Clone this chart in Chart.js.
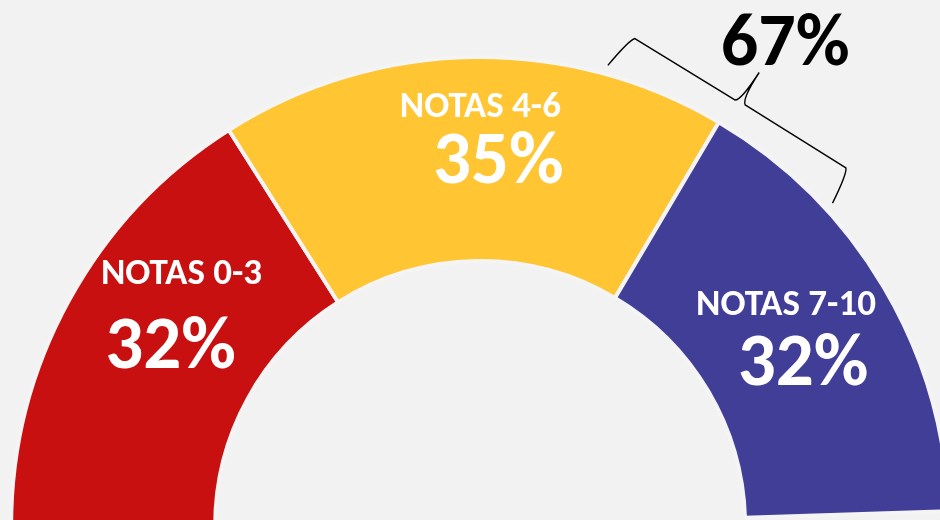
<!DOCTYPE html>
<html>
<head>
<meta charset="utf-8">
<script src="https://cdn.jsdelivr.net/npm/chart.js@4.4.1/dist/chart.umd.min.js"></script>
<style>
  html, body { margin: 0; padding: 0; background: #f2f2f2; overflow: hidden; width: 940px; height: 520px; }
  #wrap { position: absolute; left: 0; top: 0; width: 940px; height: 583px; }
</style>
</head>
<body>
<div id="wrap"><canvas id="chart"></canvas></div>
<script>
// Datos del gráfico
const categorias = ["NOTAS 0-3", "NOTAS 4-6", "NOTAS 7-10"];
const porcentajes = [32, 35, 32];
const colores = ["#c81010", "#ffc532", "#413e98"];
// el semicírculo completo equivale al 100%
const total = 100;

// ajuste fino de cada etiqueta respecto al centro del sector: [dxNombre, dyNombre, dxValor, dyValor]
const ajusteEtiquetas = [
  [23, -65, 12, 19],
  [6, -42, 24, 24],
  [-10, -24, 7, 46],
];

const FUENTE = "Carlito, Lato, sans-serif";

/**
 * Dibuja los textos de cada sector, la llave y el total de las notas 4-10
 */
const etiquetasPlugin = {
  id: "etiquetas",
  afterDatasetsDraw(chart) {
    const ctx = chart.ctx;
    const arcos = chart.getDatasetMeta(0).data;
    ctx.save();
    ctx.fillStyle = "#ffffff";
    ctx.textAlign = "center";
    ctx.textBaseline = "alphabetic";

    arcos.forEach((arco, i) => {
      const p = arco.getProps(["x", "y", "startAngle", "endAngle", "innerRadius", "outerRadius"], true);
      const ang = (p.startAngle + p.endAngle) / 2;
      const r = (p.innerRadius + p.outerRadius) / 2;
      const cx = p.x + Math.cos(ang) * r;
      const cy = p.y + Math.sin(ang) * r;
      const a = ajusteEtiquetas[i];
      ctx.font = "bold 37px " + FUENTE;
      ctx.fillText(categorias[i], cx + a[0], cy + a[1]);
      ctx.font = "bold 75px " + FUENTE;
      ctx.fillText(porcentajes[i] + "%", cx + a[2], cy + a[3]);
    });

    // Llave sobre los sectores de notas 4-10
    const base = arcos[0].getProps(["x", "y", "outerRadius"], true);
    const R = base.outerRadius + 9;
    const polar = (deg) => ({
      x: base.x + Math.cos((-deg * Math.PI) / 180) * R,
      y: base.y + Math.sin((-deg * Math.PI) / 180) * R,
    });
    const A = polar(74.5);
    const B = polar(42.5);
    const L = Math.hypot(B.x - A.x, B.y - A.y);
    const u = { x: (B.x - A.x) / L, y: (B.y - A.y) / L };
    const n = { x: u.y, y: -u.x };
    const pt = (s, d) => [A.x + u.x * s + n.x * d, A.y + u.y * s + n.y * d];
    const mid = L / 2;

    ctx.strokeStyle = "#000000";
    ctx.lineWidth = 1.4;
    ctx.lineJoin = "round";
    ctx.beginPath();
    ctx.moveTo(...pt(0, 0));
    ctx.quadraticCurveTo(...pt(5, 33), ...pt(9, 37));
    ctx.lineTo(...pt(mid - 5, 37));
    ctx.quadraticCurveTo(...pt(mid, 40), ...pt(mid + 1, 73));
    ctx.moveTo(...pt(mid + 1, 73));
    ctx.quadraticCurveTo(...pt(mid, 42), ...pt(mid + 6, 38));
    ctx.lineTo(...pt(L - 7, 37));
    ctx.quadraticCurveTo(...pt(L - 3, 33), ...pt(L, 0));
    ctx.stroke();

    const punta = pt(mid + 1, 73);
    ctx.fillStyle = "#000000";
    ctx.font = "bold 74px " + FUENTE;
    ctx.fillText(porcentajes[1] + porcentajes[2] + "%", punta[0] + 26, punta[1] - 8);
    ctx.restore();
  },
};

const suma = porcentajes.reduce((s, v) => s + v, 0);

new Chart(document.getElementById("chart"), {
  type: "doughnut",
  data: {
    labels: categorias,
    datasets: [
      {
        data: porcentajes,
        backgroundColor: colores,
        borderColor: "#f4f4f4",
        borderWidth: 4,
      },
    ],
  },
  options: {
    responsive: true,
    maintainAspectRatio: false,
    animation: false,
    rotation: -90,
    circumference: (180 * suma) / total,
    radius: 469,
    cutout: "56.5%",
    layout: { padding: { left: 20 } },
    plugins: {
      legend: { display: false },
      tooltip: { enabled: false },
    },
    hover: { mode: null },
  },
  plugins: [etiquetasPlugin],
});
</script>
</body>
</html>
